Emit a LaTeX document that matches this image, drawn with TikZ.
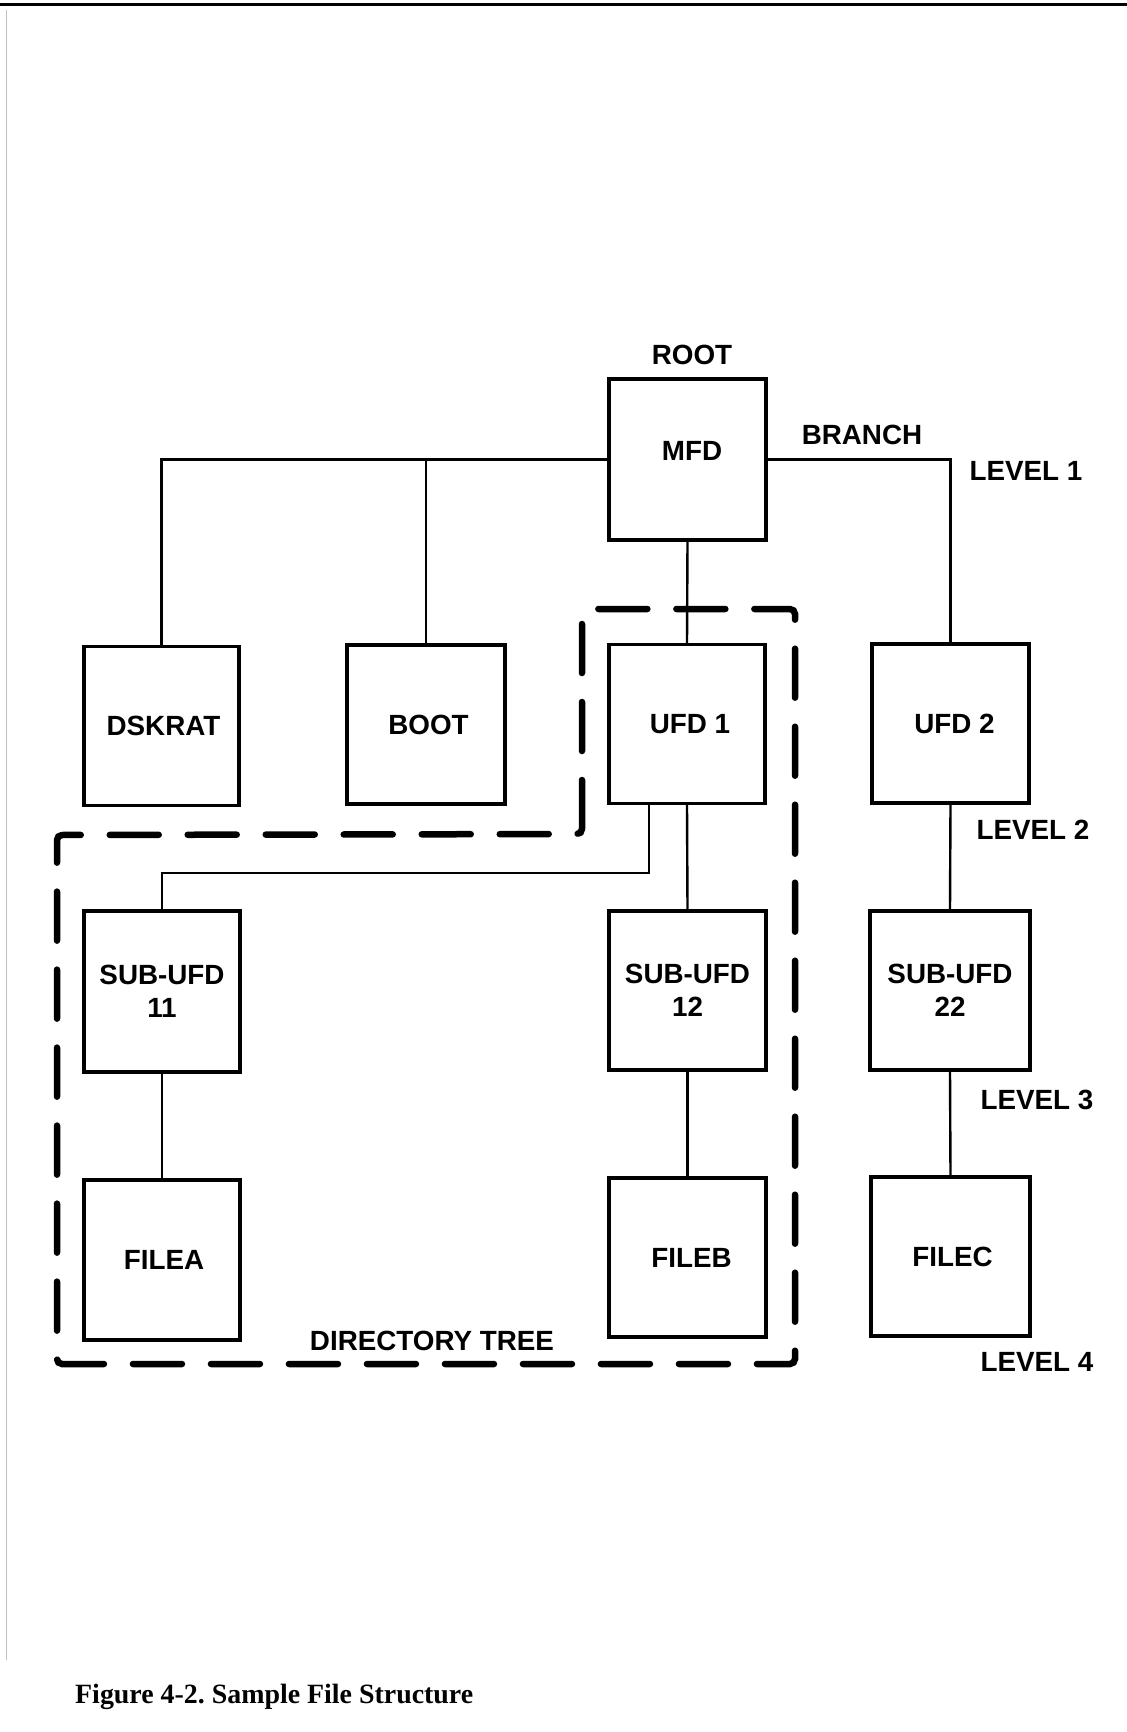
\documentclass[tikz,border=0pt]{standalone}
\usepackage{fontspec}
\setmainfont{Liberation Serif}
\newfontfamily\labfont{Liberation Sans}
\begin{document}
\begin{tikzpicture}[x=1pt,y=-1pt,
  box/.style={draw, line width=3.2pt, minimum width=157pt, minimum height=159pt, inner sep=0pt, align=center, font=\labfont\bfseries\fontsize{27.8}{33}\selectfont},
  conn/.style={line width=2.4pt},
  lbl/.style={inner sep=0pt, font=\labfont\bfseries\fontsize{27.8}{33}\selectfont},
  ring/.style={line width=6.5pt, dash pattern=on 49pt off 29pt, line cap=round, rounded corners=5pt}
]
\useasboundingbox[fill=white] (0,0) rectangle (1127,1732);
\draw[line width=3pt] (0,4) -- (1127,4);
\draw[black!25, line width=0.8pt] (6,10) -- (6,1660);

% boxes
\node[box, minimum height=161pt] (mfd) at (687.5,459.5) {};
\node[lbl] (mfdtext) at (692,451) {MFD};
\node[box, minimum width=155pt] (dskrat) at (161.5,726) {\hspace*{4pt}DSKRAT};
\node[box, minimum width=158pt] (boot) at (426,724.5) {\hspace*{5pt}BOOT};
\node[box, minimum width=156pt] (ufd1) at (687,724) {\hspace*{6pt}UFD 1};
\node[box] (ufd2) at (950.5,723.5) {\hspace*{8pt}UFD 2};
\node[box, minimum width=156pt, minimum height=161pt] (sub11) at (162,991.5) {SUB-UFD\\11};
\node[box] (sub12) at (687.5,990.5) {SUB-UFD\\12};
\node[box, minimum width=160pt] (sub22) at (950,990.5) {SUB-UFD\\22};
\node[box, minimum width=156pt, minimum height=160pt] (filea) at (162,1260) {\hspace*{4pt}FILEA};
\node[box] (fileb) at (687.5,1257.5) {\hspace*{8pt}FILEB};
\node[box, minimum width=159pt] (filec) at (950.5,1256.5) {\hspace*{4pt}FILEC};

% connectors
\draw[conn] (mfd.west) -| (dskrat.north);
\draw[conn] (boot.north) -- (boot.north |- mfd.west);
\draw[conn] (mfd.south) -- (ufd1.north);
\draw[conn] (mfd.east) -| (ufd2.north);
\draw[conn] (ufd1.south) -- (sub12.north);
\coordinate (elbow) at (162,873);
\draw[conn] ([xshift=-38pt]ufd1.south) |- (elbow) -- (sub11.north);
\draw[conn] (ufd2.south) -- (sub22.north);
\draw[conn] (sub11.south) -- (filea.north);
\draw[conn] (sub12.south) -- (fileb.north);
\draw[conn] (sub22.south) -- (filec.north);

% dashed directory tree outline
\draw[ring] (582,834) -- (582,609) -- (795,609) -- (795,1364) -- (57,1364) -- (57,835) -- cycle;

% labels
\node[lbl] (root) at (692,355) {ROOT};
\node[lbl] (branch) at (862,435) {BRANCH};
\node[lbl] (lev1) at (1026,471) {LEVEL 1};
\node[lbl] (lev2) at (1033,830) {LEVEL 2};
\node[lbl] (lev3) at (1037,1100) {LEVEL 3};
\node[lbl] (lev4) at (1037,1362) {LEVEL 4};
\node[lbl] (dirtree) at (432,1341) {DIRECTORY TREE};
\node[inner sep=0pt, anchor=base west, font=\bfseries\fontsize{27.9}{33}\selectfont] (caption) at (75,1703) {\frenchspacing Figure 4-2. Sample File Structure};
\end{tikzpicture}
\end{document}
